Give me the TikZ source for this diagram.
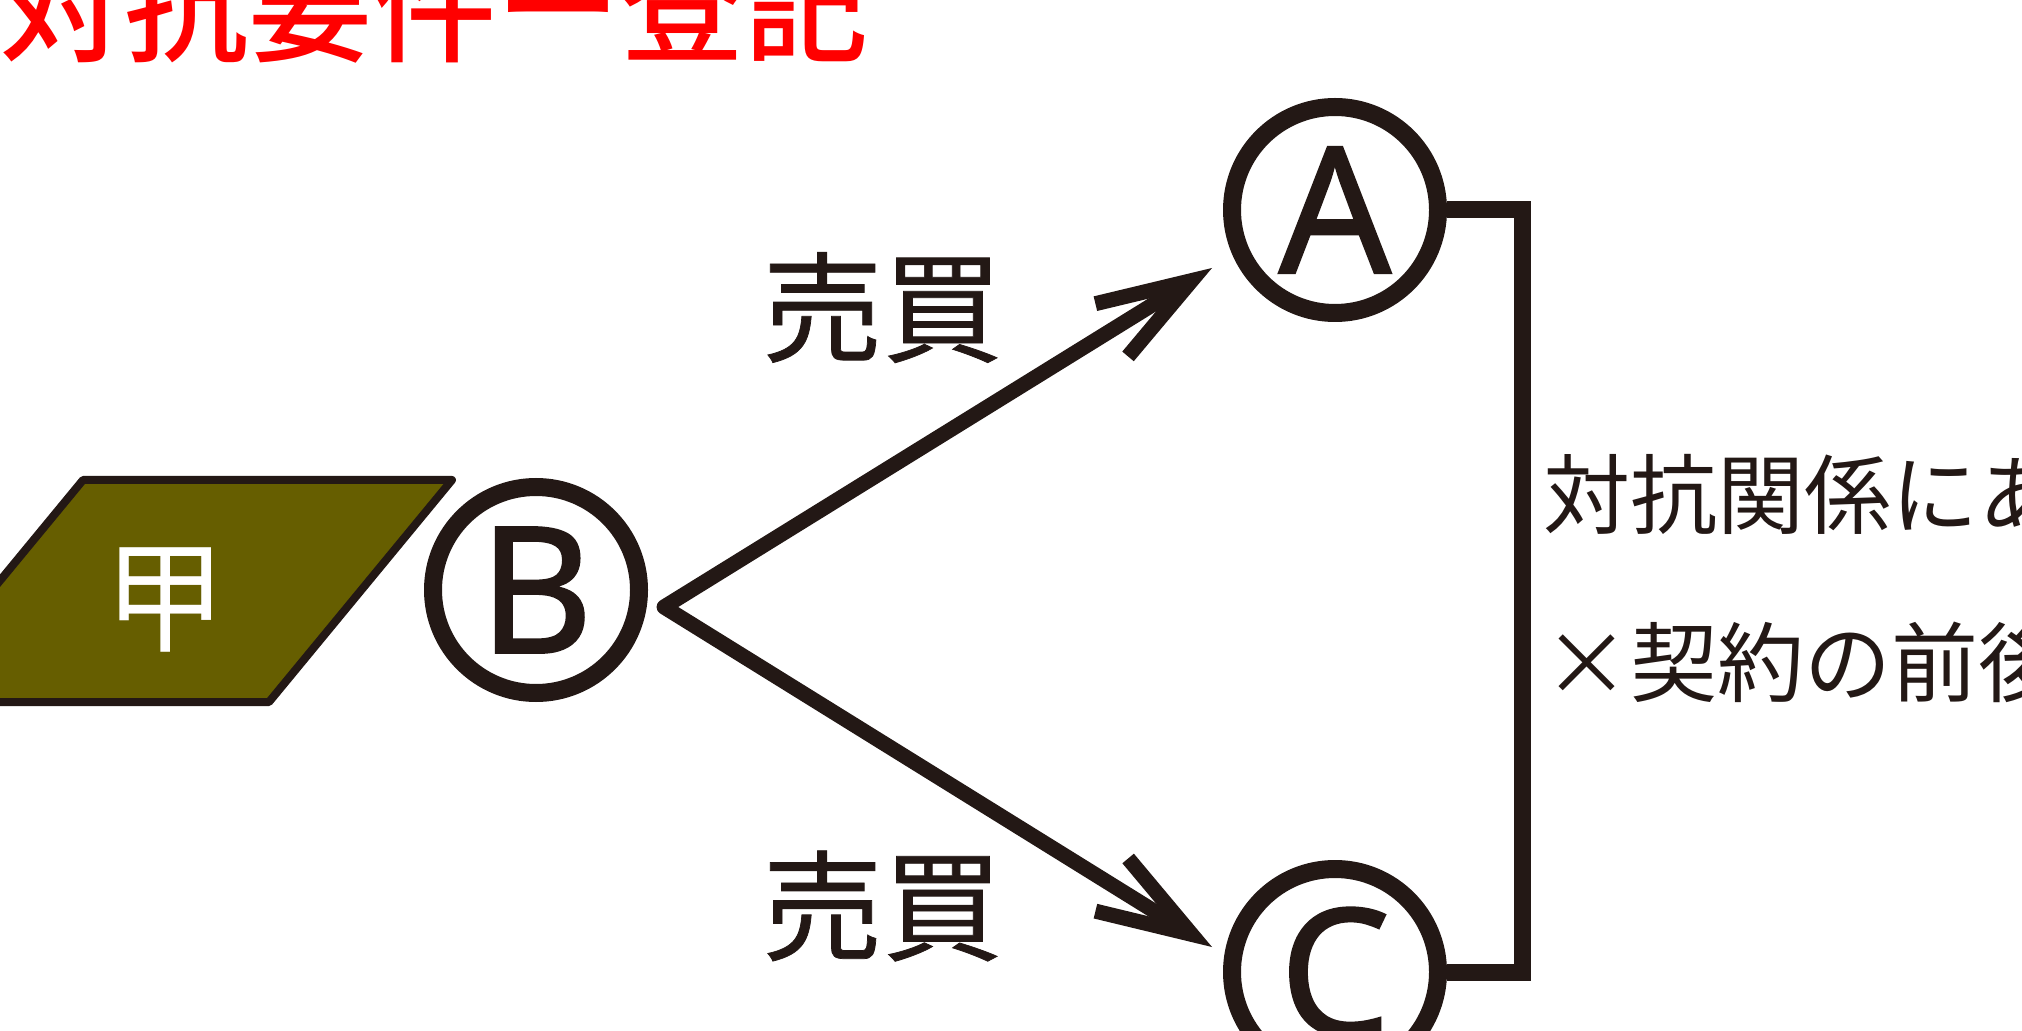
\documentclass[tikz,border=0pt]{standalone}
\usepackage{fontspec}
\setmainfont{Noto Sans}
\newfontfamily\letterfont{Noto Sans}[FakeBold=1.2]
\newfontfamily\jp{Noto Sans CJK JP}
\newfontfamily\jplabel{Noto Sans CJK JP}[FakeBold=0.6]
\IfFontExistsTF{Noto Sans CJK JP Medium}{\newfontfamily\jptitle{Noto Sans CJK JP Medium}}{\newfontfamily\jptitle{Noto Sans CJK JP}[FakeBold=1.5]}
\usetikzlibrary{arrows.meta}
\definecolor{ink}{HTML}{231815}
\definecolor{olivefill}{RGB}{102,94,0}
\definecolor{titlered}{HTML}{FF0000}
\begin{document}
\begin{tikzpicture}[x=0.5pt,y=-0.5pt,
  party/.style={circle,draw=ink,line width=9pt,minimum size=103pt,inner sep=0pt,text=ink,font=\letterfont\fontsize{88pt}{88pt}\selectfont},
  sale/.style={draw=ink,line width=7.5pt,line join=round,{Straight Barb[length=47pt,width=31pt,line width=7.5pt]}-{Straight Barb[length=47pt,width=31pt,line width=7.5pt]}},
  lbl/.style={inner sep=0pt,text=ink,font=\jplabel\fontsize{60pt}{60pt}\selectfont},
  note/.style={inner sep=0pt,anchor=base west,text=ink,font=\jp\fontsize{43.5pt}{43.5pt}\selectfont},
  bracket/.style={draw=ink,line width=8.5pt,line join=miter},
]
\useasboundingbox (0,0) rectangle (2022,1031);
\fill[white] (0,0) rectangle (2022,1031);
\node[anchor=base west,inner sep=0pt,text=titlered,font=\jptitle\fontsize{62pt}{62pt}\selectfont] (title) at (0,53) {対抗要件ー登記};
\draw[ink,line width=4pt,line join=round,fill=olivefill] (83,480) -- (452,480) -- (269,702) -- (-100,702) -- cycle;
\node[inner sep=0pt,text=white,font=\jp\fontsize{61pt}{61pt}\selectfont] (ko) at (165.5,599.5) {甲};
\node[party] (B) at (536,590) {B};
\node[party] (A) at (1335,210) {A};
\node[party] (C) at (1335,972) {C};
\coordinate (V) at (664,607);
\coordinate (tA) at (1212,268);
\coordinate (tC) at (1212,947);
\draw[sale] (tA) -- (V) -- (tC);
\node[lbl] (s1) at (882.5,307.5) {売買};
\node[lbl] (s2) at (882.5,906) {売買};
\coordinate (k) at (1522,590);
\draw[bracket] (A.east) -- (A.east -| k) -- (C.east -| k) -- (C.east);
\node[note] (n1) at (1543,527) {対抗関係にあ};
\node[note] (n2) at (1543,695) {×契約の前後};
\end{tikzpicture}
\end{document}
